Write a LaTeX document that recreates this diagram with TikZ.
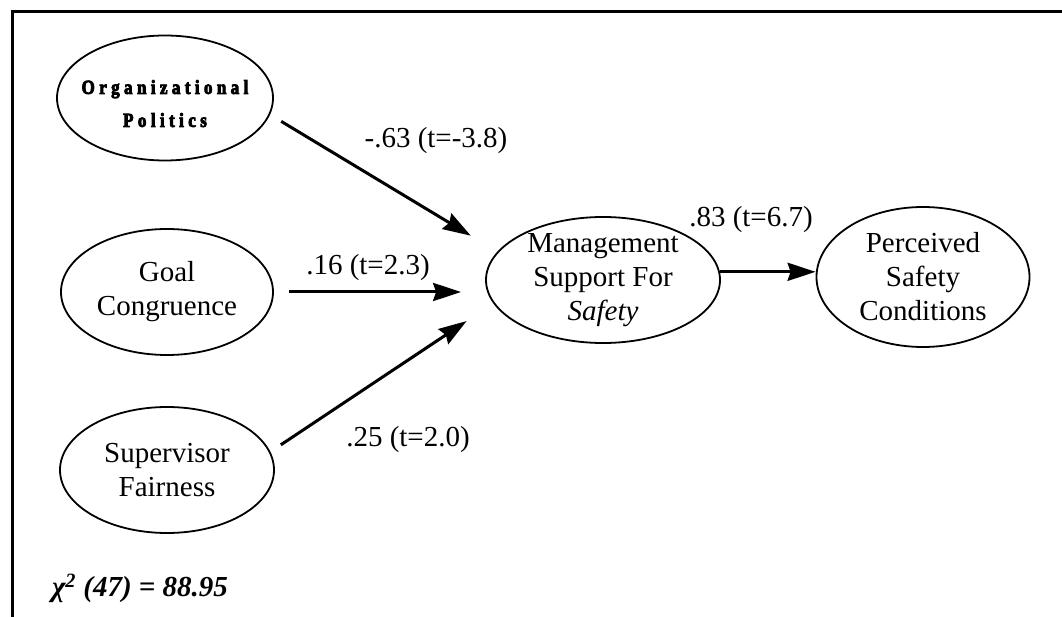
\documentclass[tikz,border=0pt]{standalone}
\usepackage{fontspec}
\setmainfont{Liberation Serif}
\newfontfamily\spacedfont[LetterSpace=22, FakeBold=4, FakeStretch=0.85]{Liberation Serif}
\usetikzlibrary{shapes.geometric,arrows.meta}
\begin{document}
\begin{tikzpicture}[x=1pt, y=-1pt,
    nodeStyle/.style={ellipse, draw, line width=1.8pt, inner sep=-12pt, align=center, font=\fontsize{29}{34}\selectfont},
    arrowStyle/.style={line width=3pt, -{Stealth[length=28pt, width=18pt, inset=3pt]}},
    labelStyle/.style={inner sep=0pt, font=\fontsize{29}{34}\selectfont}]
    \useasboundingbox (0,0) rectangle (1062,617);
    \draw[line width=3pt] (12,617) -- (12,12) -- (1062,12);

    \node[nodeStyle, minimum width=216pt, minimum height=125pt, text height=58pt, font=\spacedfont\bfseries\fontsize{20}{33}\selectfont](org) at (165, 98) {Organizational\\Politics};
    \node[nodeStyle, minimum width=212pt, minimum height=126pt](goal) at (167, 292) {Goal\\Congruence};
    \node[nodeStyle, minimum width=214pt, minimum height=126pt](sup) at (167, 470) {Supervisor\\Fairness};
    \node[nodeStyle, minimum width=234pt, minimum height=126pt](mgmt) at (603, 280) {Management\\Support For\\\textit{Safety}};
    \node[nodeStyle, minimum width=213pt, minimum height=140pt](perc) at (923, 277) {Perceived\\Safety\\Conditions};

    \node[labelStyle](l1) at (436, 141) {-.63 (t=-3.8)};
    \node[labelStyle](l2) at (368, 268) {.16 (t=2.3)};
    \node[labelStyle](l3) at (408, 440) {.25 (t=2.0)};
    \node[labelStyle](l4) at (751, 220) {.83 (t=6.7)};
    \node[labelStyle](chi) at (140, 588) {\textbf{\textit{χ\textsuperscript{2} (47) = 88.95}}};

    \draw[arrowStyle, shorten <=13pt, shorten >=31pt] (org.-9.5) -- (mgmt.165.9);
    \draw[arrowStyle, shorten <=15pt, shorten >=24pt] (goal.east) -- (goal.east -| mgmt.west);
    \draw[arrowStyle, shorten <=12.5pt, shorten >=32pt] (sup.10.1) -- (mgmt.192.8);
    \draw[arrowStyle] (mgmt.4) -- (mgmt.4 -| perc.west);
\end{tikzpicture}
\end{document}
